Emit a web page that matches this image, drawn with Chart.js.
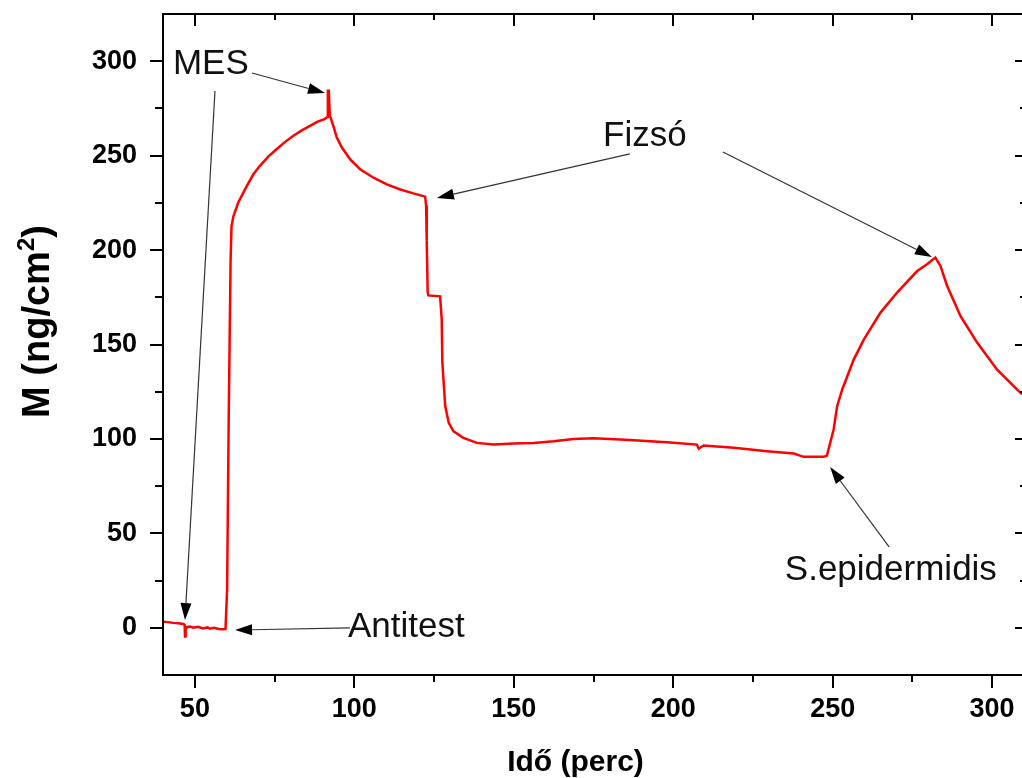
<!DOCTYPE html>
<html><head><meta charset="utf-8">
<script src="https://cdn.jsdelivr.net/npm/chart.js@4.4.1/dist/chart.umd.min.js"></script>
<style>html,body{margin:0;padding:0;overflow:hidden;background:#fff;width:1022px;height:778px}canvas{display:block}</style>
</head><body><canvas id="c" width="1030" height="778"></canvas>
<script>
// ---- data ----
const timeMin = [40.0,41.5,43.2,44.8,46.4,46.8,46.9,47.1,47.4,48.5,49.5,51.0,52.5,54.0,54.7,56.0,57.5,58.9,59.6,60.1,60.6,61.2,61.5,62.1,63.6,66.3,68.3,70.4,73.0,75.7,78.3,80.9,83.5,86.1,88.5,90.8,91.5,91.7,92.0,92.3,92.6,93.4,94.5,96.1,98.7,101.8,106.0,110.2,114.4,118.5,122.2,122.5,122.7,123.0,123.2,126.9,127.4,127.6,128.5,129.6,131.1,134.2,138.4,143.6,149.9,156.2,162.5,168.7,175.0,183.4,187.6,198.0,207.4,208.0,209.5,219.0,229.4,237.8,240.9,247.2,248.2,250.3,251.4,253.0,256.6,259.8,265.0,270.2,276.5,279.6,282.2,283.8,285.9,290.1,295.3,301.5,308.9,310.5];
const massNg  = [3.2,3.0,2.6,2.4,2.0,1.5,-4.6,-1.0,0.3,0.6,0.0,0.5,-0.3,0.2,-0.5,0.0,-0.6,-0.8,-0.6,20,110,195,212.8,218,225.2,234,240,244.6,249.5,253.5,257.3,260.5,263.4,265.8,268.0,269.4,270.5,284.4,284.4,271,270,265.8,259.6,254.3,248,242.8,238.3,234.8,232.1,230,228.3,223.6,205,177.7,176,175.5,163.3,140.5,117.4,108.5,104,100.6,97.9,97.0,97.6,97.9,98.8,100,100.4,99.7,99.3,98.2,97.0,94.8,96.5,95.3,93.5,92.3,90.5,90.5,91.2,105,117.3,126.2,142,152.7,166.9,177.5,188.9,192.5,196,191.6,181,165,151,136.8,124.4,122.5];

const xMajorTicks = [50,100,150,200,250,300];
const xMinorTicks = [75,125,175,225,275];
const yMajorTicks = [0,50,100,150,200,250,300];
const yMinorTicks = [25,75,125,175,225,275];

const xTitle = 'Idő (perc)';
const yTitleMain = 'M (ng/cm';
const yTitleSup = '2';
const yTitleEnd = ')';

// annotation texts and their anchors in data units
const noteTexts = ['MES','Antitest','Fizsó','S.epidermidis'];
const noteX = [43.1, 98.0, 178.0, 235.0];
const noteY = [293.2, -4.9, 255.1, 25.3];

// arrows in data units
const arrowFromX = [67.9, 56.3, 98.6, 186.4, 215.6, 267.7];
const arrowFromY = [293.75, 284.2, -0.1, 250.9, 251.9, 42.8];
const arrowToX   = [90.8, 46.9, 62.6, 125.9, 281.1, 249.2];
const arrowToY   = [283.2, 4.1, -1.2, 227.6, 196.3, 85.1];

const points = timeMin.map((t,i)=>({x:t, y:massNg[i]}));
const FONT = '"Liberation Sans", Arial, sans-serif';

const deco = {
  id:'deco',
  afterDraw(chart){
    const {ctx, chartArea:a, scales:{x, y}} = chart;
    ctx.save();
    // frame
    ctx.strokeStyle = '#000'; ctx.lineWidth = 2;
    ctx.strokeRect(a.left, a.top, a.right - a.left, a.bottom - a.top);
    const seg = (x1,y1,x2,y2)=>{ctx.beginPath();ctx.moveTo(x1,y1);ctx.lineTo(x2,y2);ctx.stroke();};
    xMajorTicks.forEach(v=>{const p=Math.round(x.getPixelForValue(v)); seg(p,a.bottom,p,a.bottom+13); seg(p,a.top,p,a.top+12);});
    xMinorTicks.forEach(v=>{const p=Math.round(x.getPixelForValue(v)); seg(p,a.bottom,p,a.bottom+7); seg(p,a.top,p,a.top+6);});
    yMajorTicks.forEach(v=>{const p=Math.round(y.getPixelForValue(v)); seg(a.left-13,p,a.left,p); seg(a.right-9,p,a.right,p);});
    yMinorTicks.forEach(v=>{const p=Math.round(y.getPixelForValue(v)); seg(a.left-8,p,a.left,p); seg(a.right-4,p,a.right,p);});

    // titles
    ctx.fillStyle = '#000';
    ctx.font = 'bold 30px ' + FONT;
    ctx.textAlign = 'center'; ctx.textBaseline = 'alphabetic';
    ctx.fillText(xTitle, 575.5, 771);

    ctx.save();
    ctx.translate(49, 321.5);
    ctx.rotate(-Math.PI/2);
    ctx.textAlign = 'left';
    ctx.font = 'bold 38px ' + FONT;
    const w1 = ctx.measureText(yTitleMain).width;
    const w3 = ctx.measureText(yTitleEnd).width;
    ctx.font = 'bold 24px ' + FONT;
    const w2 = ctx.measureText(yTitleSup).width;
    const s = -(w1 + w2 + w3)/2;
    ctx.font = 'bold 38px ' + FONT;
    ctx.fillText(yTitleMain, s, 0);
    ctx.fillText(yTitleEnd, s + w1 + w2, 0);
    ctx.font = 'bold 24px ' + FONT;
    ctx.fillText(yTitleSup, s + w1, -15);
    ctx.restore();

    // annotation texts
    ctx.font = '35px ' + FONT;
    ctx.textAlign = 'left'; ctx.textBaseline = 'alphabetic';
    ctx.fillStyle = '#111';
    noteTexts.forEach((t,i)=>{
      ctx.fillText(t, x.getPixelForValue(noteX[i]), y.getPixelForValue(noteY[i]));
    });

    // arrows
    ctx.strokeStyle = '#333'; ctx.fillStyle = '#000'; ctx.lineWidth = 1.2;
    arrowFromX.forEach((fx,i)=>{
      const x1 = x.getPixelForValue(fx), y1 = y.getPixelForValue(arrowFromY[i]);
      const x2 = x.getPixelForValue(arrowToX[i]), y2 = y.getPixelForValue(arrowToY[i]);
      const ang = Math.atan2(y2-y1, x2-x1);
      const L = 17, W = 5.5;
      const bx = x2 - L*Math.cos(ang), by = y2 - L*Math.sin(ang);
      seg(x1, y1, bx, by);
      ctx.beginPath();
      ctx.moveTo(x2, y2);
      ctx.lineTo(bx + W*Math.sin(ang), by - W*Math.cos(ang));
      ctx.lineTo(bx - W*Math.sin(ang), by + W*Math.cos(ang));
      ctx.closePath(); ctx.fill();
    });
    ctx.restore();
  }
};

new Chart(document.getElementById('c'), {
  type: 'line',
  data: { datasets: [{ data: points, borderColor: '#ff0000', borderWidth: 2.5, pointRadius: 0, tension: 0, fill: false }] },
  options: {
    responsive: false, animation: false, devicePixelRatio: 1,
    layout: { padding: { left: 0, top: 14, right: 6, bottom: 0 } },
    plugins: { legend: { display: false }, tooltip: { enabled: false } },
    scales: {
      x: {
        type: 'linear', min: 40, max: 310,
        afterBuildTicks: s => { s.ticks = xMajorTicks.map(v=>({value:v})); },
        afterFit: s => { s.height = 103; s.paddingLeft = 0; s.paddingRight = 0; },
        grid: { drawOnChartArea: false, drawTicks: true, tickLength: 13, tickColor: 'rgba(0,0,0,0)' },
        border: { display: false },
        ticks: { autoSkip: false, maxRotation: 0, padding: 5, color: '#000', font: { family: FONT, size: 27, weight: 'bold' } }
      },
      y: {
        type: 'linear', min: -25, max: 325,
        afterBuildTicks: s => { s.ticks = yMajorTicks.map(v=>({value:v})); },
        afterFit: s => { s.width = 163; s.paddingTop = 0; s.paddingBottom = 0; },
        grid: { drawOnChartArea: false, drawTicks: true, tickLength: 13, tickColor: 'rgba(0,0,0,0)' },
        border: { display: false },
        ticks: { autoSkip: false, padding: 13, color: '#000', font: { family: FONT, size: 27, weight: 'bold' } }
      }
    }
  },
  plugins: [deco]
});
</script>
</body></html>
